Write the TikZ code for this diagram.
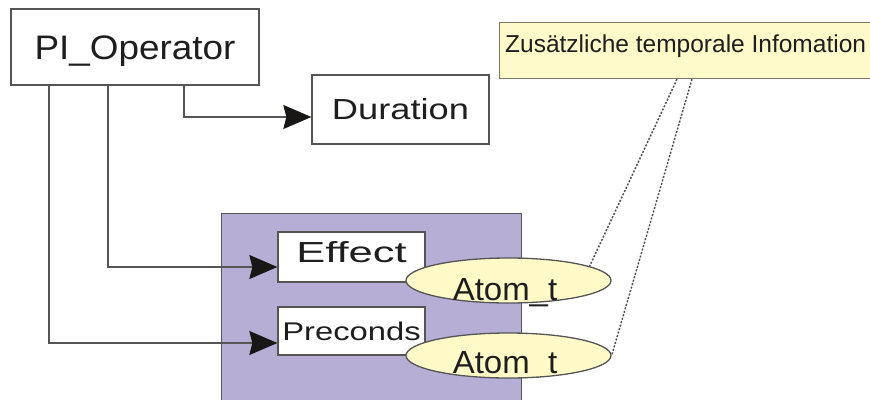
\documentclass[tikz,border=0pt]{standalone}
\usepackage{fontspec}
\usepackage{graphicx}
\setmainfont{Liberation Sans}
\usetikzlibrary{arrows.meta,shapes.geometric}

\definecolor{frame}{RGB}{85,85,85}
\definecolor{lilac}{RGB}{182,174,213}
\definecolor{paleyellow}{RGB}{255,250,200}
\definecolor{notefill}{RGB}{255,250,202}
\definecolor{noteframe}{RGB}{120,118,100}
\definecolor{inkgray}{RGB}{30,30,30}
\definecolor{wire}{RGB}{85,85,85}
\definecolor{tipblack}{RGB}{25,22,22}
\definecolor{dotgray}{RGB}{80,80,80}

\begin{document}
\begin{tikzpicture}[x=1pt,y=-1pt,
  box/.style={draw=frame,line width=1.3pt,fill=white,inner sep=0pt,text=inkgray,text depth=0pt},
  conn/.style={draw=wire,line width=1.3pt,-{Stealth[length=28pt,width=24pt,inset=3pt,color=tipblack]}},
  atom/.style={ellipse,draw=frame,line width=1.3pt,fill=paleyellow,inner sep=0pt},
  atomtext/.style={inner sep=0pt,text=inkgray,text height=23pt,text depth=0pt,
    font=\fontsize{32pt}{32pt}\selectfont},
  dotline/.style={draw=dotgray,line width=1.5pt,dash pattern=on 2pt off 1.6pt}
]
\clip (0,0) rectangle (870,399);

% operator and duration
\node[box,minimum width=248pt,minimum height=76pt,text height=24.3pt,
  font=\fontsize{34pt}{34pt}\selectfont] (pi) at (135,47) {\scalebox{1.085}[1]{PI\_Operator}};
\node[box,minimum width=177pt,minimum height=69pt,text height=20.7pt,
  font=\fontsize{29pt}{29pt}\selectfont] (dur) at (400.5,109.5) {\scalebox{1.25}[1]{Duration}};

% group holding effect and preconditions
\node[draw=frame,fill=lilac,line width=1.3pt,anchor=north west,inner sep=0pt,
  minimum width=300pt,minimum height=200pt] (group) at (221,213) {};
\node[box,minimum width=147pt,minimum height=50pt,text height=20.7pt,text depth=10pt,
  font=\fontsize{29pt}{29pt}\selectfont] (eff) at (351.5,257) {\scalebox{1.5}[1]{Effect}};
\node[box,minimum width=147pt,minimum height=48pt,text height=18.3pt,
  font=\fontsize{25.6pt}{25.6pt}\selectfont] (pre) at (351.5,331) {\scalebox{1.28}[1]{Preconds}};

% temporal atoms
\node[atom,minimum width=205pt,minimum height=45pt] (e1) at (508.5,280.5) {};
\node[atomtext] (t1) at ([xshift=-3.5pt,yshift=-8pt]e1.center) {\scalebox{1.03}[1]{Atom\_t}};
\node[atom,minimum width=205pt,minimum height=45pt,
  path picture={\node[atomtext] (t2) at ([xshift=-3.5pt,yshift=-6pt]path picture bounding box.center)
    {\scalebox{1.03}[1]{Atom\_t}};}] (e2) at (508.5,355.5) {};

% note
\node[draw=noteframe,fill=notefill,line width=1.2pt,anchor=north west,inner sep=0pt,
  minimum width=390pt,minimum height=56pt] (note) at (499,22) {};
\node[anchor=base west,inner sep=0pt,text=inkgray,font=\fontsize{24.5pt}{24.5pt}\selectfont]
  (notetext) at ([xshift=6pt,yshift=-30pt]note.north west) {Zusätzliche temporale Infomation};

% connectors
\draw[conn] ([xshift=49pt]pi.south) |- ([yshift=-7.5pt]dur.west);
\draw[conn] ([xshift=-27pt]pi.south) |- ([yshift=-10pt]eff.west);
\draw[conn] ([xshift=-86pt]pi.south) |- ([yshift=-12pt]pre.west);

% annotation links
\draw[dotline] ([xshift=178pt]note.south west) -- (e1.10);
\draw[dotline] ([xshift=193pt]note.south west) -- (e2.east);
\end{tikzpicture}
\end{document}
